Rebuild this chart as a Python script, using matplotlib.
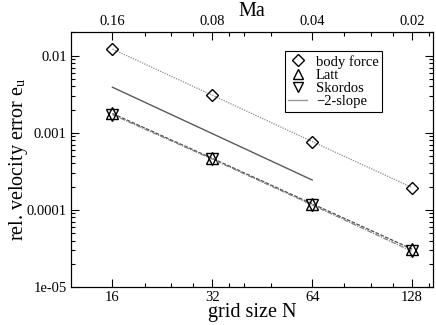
import numpy as np
import matplotlib
matplotlib.use('Agg')
import matplotlib.pyplot as plt
from matplotlib.ticker import FixedLocator, NullFormatter, LogLocator

plt.rcParams['font.family'] = ['Liberation Serif', 'DejaVu Serif']
plt.rcParams['mathtext.fontset'] = 'stix'

# data
grid_n = [16, 32, 64, 128]
err_body = [0.0122, 0.00307, 0.00077, 0.000195]
err_latt = [0.00178, 0.000466, 0.000120, 3.1e-05]
err_skordos = [0.00172, 0.000455, 0.000116, 2.9e-05]
slope_n = [16, 64]
slope_err = [0.0039, 0.000244]

ma_labels = ['0.16', '0.08', '0.04', '0.02']
x_minor = [20, 24, 28, 36, 40, 48, 80, 96, 112, 144]
y_major = [1e-5, 1e-4, 1e-3, 1e-2]
y_labels = ['1e-05', '0.0001', '0.001', '0.01']

fig = plt.figure(figsize=(4.36, 3.25), dpi=100)
ax = fig.add_axes([71/436, 1-287/325, 362/436, 255/325])

ax.plot(grid_n, err_body, color='0.55', lw=0.9, ls=(0, (1, 1)),
        marker='D', ms=6.5, mfc='none', mec='black', mew=1.0, label='body force')
ax.plot(grid_n, err_latt, color='0.3', lw=0.9, ls=(0, (3, 1.2)),
        marker='^', ms=8, mfc='none', mec='black', mew=1.0, label='Latt')
ax.plot(grid_n, err_skordos, color='0.5', lw=0.9, ls=(0, (4, 1, 1, 1)),
        marker='v', ms=8, mfc='none', mec='black', mew=1.0, label='Skordos')
ax.plot(slope_n, slope_err, color='0.35', lw=1.0, label='\u22122-slope')

ax.set_xscale('log', base=2)
ax.set_yscale('log')
ax.set_xlim(12, 148)
ax.set_ylim(1e-5, 0.0203)

ax.xaxis.set_major_locator(FixedLocator(grid_n))
ax.set_xticklabels([str(n) for n in grid_n])
ax.xaxis.set_minor_locator(FixedLocator(x_minor))
ax.xaxis.set_minor_formatter(NullFormatter())
ax.yaxis.set_major_locator(FixedLocator(y_major))
ax.set_yticklabels(y_labels)
ax.yaxis.set_minor_locator(LogLocator(base=10, subs=np.arange(2, 10)))
ax.yaxis.set_minor_formatter(NullFormatter())

ax.tick_params(which='both', direction='in', right=True, labelsize=10.5, pad=3)
ax.tick_params(which='major', length=6, width=0.8)
ax.tick_params(which='minor', length=3, width=0.8)

ax.set_xlabel('grid size N', fontsize=14.5, va='center')
ax.xaxis.set_label_coords(0.5, -(313-287)/255)
ax.set_ylabel('rel. velocity error e$_\\mathregular{u}$', fontsize=14.5, va='center')
ax.yaxis.set_label_coords((19-71)/362, 0.5)

top = ax.twiny()
top.set_xscale('log', base=2)
top.set_xlim(ax.get_xlim())
top.xaxis.set_major_locator(FixedLocator(grid_n))
top.set_xticklabels(ma_labels)
top.xaxis.set_minor_locator(FixedLocator(x_minor))
top.xaxis.set_minor_formatter(NullFormatter())
top.tick_params(which='both', direction='in', labelsize=10.5, pad=3)
top.tick_params(which='major', length=6, width=0.8)
top.tick_params(which='minor', length=3, width=0.8)
top.set_xlabel('Ma', fontsize=14.5, va='center')
top.xaxis.set_label_coords(0.5, 1 + (32-11)/255)

leg = ax.legend(loc='upper right', bbox_to_anchor=(0.86, 0.925), fontsize=10.5,
                frameon=True, fancybox=False, edgecolor='black', framealpha=1,
                handlelength=1.3, handletextpad=0.6, borderpad=0.25,
                labelspacing=0.0, borderaxespad=0, markerscale=0.95)
leg.get_frame().set_linewidth(0.8)
for h in leg.legend_handles[:3]:
    h.set_linestyle('none')
leg.legend_handles[3].set_color('0.6')

for sp in list(ax.spines.values()) + list(top.spines.values()):
    sp.set_linewidth(0.8)

fig.savefig('out.png', dpi=100)
